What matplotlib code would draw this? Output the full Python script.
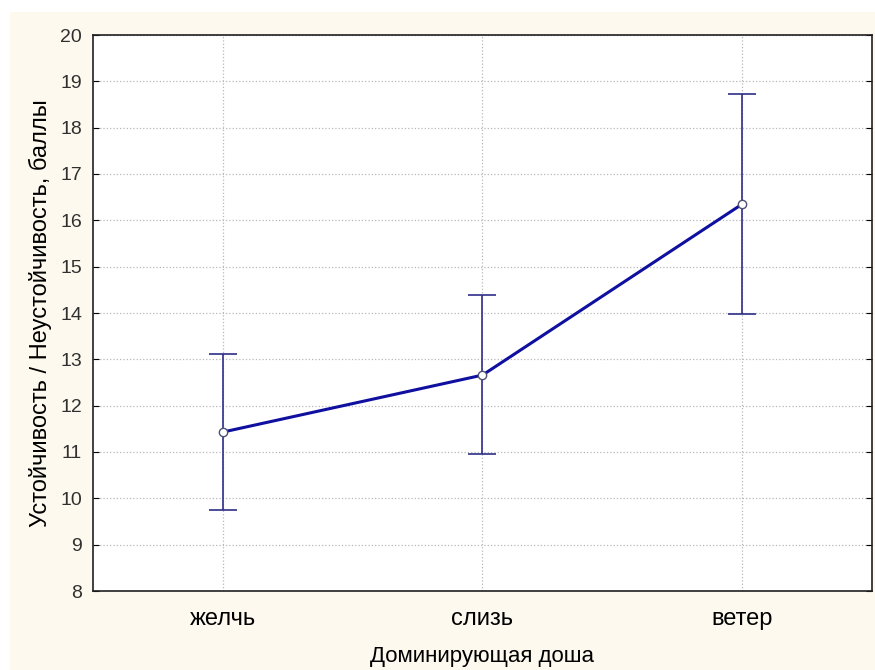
import numpy as np
import matplotlib
matplotlib.use('Agg')
import matplotlib.pyplot as plt
from matplotlib.patches import Rectangle

plt.rcParams['font.family'] = ['Liberation Sans', 'DejaVu Sans']

# Data
categories = ['желчь', 'слизь', 'ветер']
means = [11.43, 12.66, 16.35]
upper = [13.12, 14.39, 18.73]
lower = [9.75, 10.96, 13.98]
y_ticks = list(range(8, 21))

x = np.arange(len(categories))
err_low = np.array(means) - np.array(lower)
err_high = np.array(upper) - np.array(means)

fig = plt.figure(figsize=(8.75, 6.7), dpi=100, facecolor='white')
# cream backdrop behind the plot
fig.patches.append(Rectangle((10 / 875, 0), 1, 1 - 12 / 670, transform=fig.transFigure,
                             facecolor='#FDF9EE', edgecolor='none', zorder=-1))

ax = fig.add_axes([93 / 875, 1 - 591 / 670, (872 - 93) / 875, (591 - 35) / 670])
ax.set_facecolor('white')

# error bars
ax.errorbar(x, means, yerr=[err_low, err_high], fmt='none', ecolor='#2E2E8A',
            elinewidth=1.2, capsize=10, capthick=1.2, zorder=3)
# mean line
ax.plot(x, means, color='#0F0FA0', linewidth=2.2, zorder=4)
ax.plot(x, means, 'o', markersize=6, markerfacecolor='white',
        markeredgecolor='#505070', markeredgewidth=1.0, zorder=5)

ax.set_xlim(-0.5, 2.5)
ax.set_ylim(8, 20)
ax.set_xticks(x)
ax.set_xticklabels(categories, fontsize=17)
ax.set_yticks(y_ticks)
ax.tick_params(axis='y', labelsize=14, direction='in', length=4, right=True,
               labelright=False, pad=8, labelcolor='#303030')
ax.tick_params(axis='x', length=0, pad=12)
ax.grid(True, color='#B8B8B8', linestyle=':', linewidth=0.9)
ax.set_axisbelow(True)

for sp in ax.spines.values():
    sp.set_color('#202020')
    sp.set_linewidth(1.2)

ax.set_xlabel('Доминирующая доша', fontsize=16, labelpad=12)
ax.set_ylabel('Устойчивость / Неустойчивость, баллы', fontsize=17, labelpad=6)

fig.savefig('out.png', dpi=100, facecolor=fig.get_facecolor())
